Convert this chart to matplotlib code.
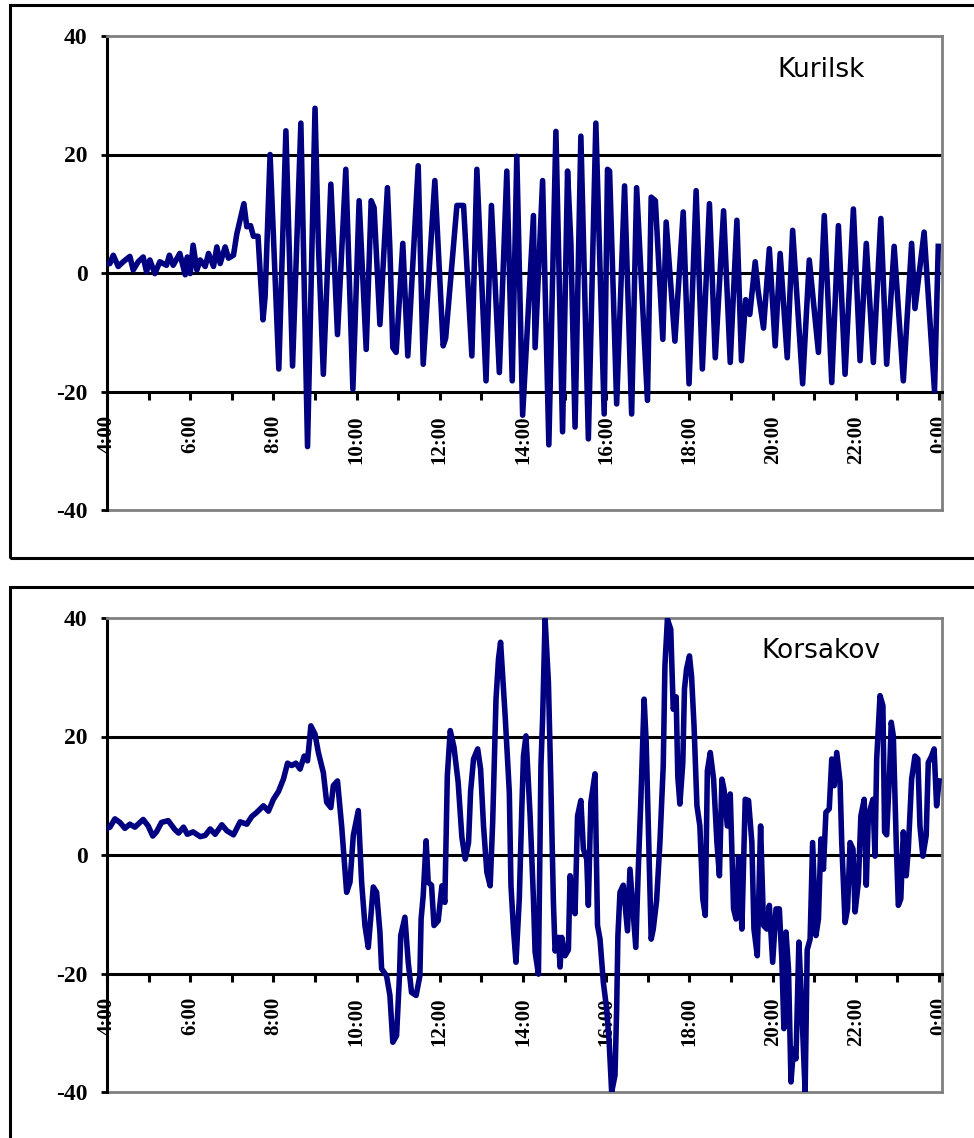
import matplotlib
matplotlib.use("Agg")
import matplotlib.pyplot as plt
from matplotlib.patches import Rectangle

# sea level records, hours since midnight -> cm
kurilsk_t = [4.00, 4.07, 4.15, 4.27, 4.39, 4.55, 4.63, 4.75, 4.87, 4.95, 5.03, 5.15, 5.27, 5.43,
             5.50, 5.59, 5.75, 5.88, 5.93, 6.00, 6.07, 6.16, 6.24, 6.36, 6.44, 6.56, 6.64, 6.72,
             6.84, 6.92, 7.04, 7.12, 7.29, 7.36, 7.45, 7.52, 7.63, 7.75, 7.80, 7.92, 8.13, 8.30,
             8.46, 8.66, 8.82, 9.00, 9.08, 9.20, 9.38, 9.54, 9.74, 9.91, 10.06, 10.23, 10.35,
             10.42, 10.56, 10.74, 10.80, 10.87, 10.95, 11.11, 11.23, 11.48, 11.60, 11.88, 12.08,
             12.14, 12.41, 12.57, 12.77, 12.89, 13.11, 13.24, 13.43, 13.61, 13.74, 13.85, 13.99,
             14.25, 14.29, 14.47, 14.62, 14.79, 14.95, 15.07, 15.15, 15.25, 15.39, 15.57, 15.75,
             15.95, 16.03, 16.08, 16.25, 16.44, 16.61, 16.73, 16.99, 17.08, 17.18, 17.36, 17.44,
             17.65, 17.85, 17.99, 18.16, 18.31, 18.48, 18.62, 18.82, 18.98, 19.14, 19.25, 19.35,
             19.45, 19.58, 19.65, 19.78, 19.92, 20.06, 20.18, 20.35, 20.48, 20.72, 20.88, 21.10,
             21.24, 21.42, 21.58, 21.74, 21.94, 22.10, 22.25, 22.42, 22.60, 22.74, 22.92, 23.14,
             23.34, 23.42, 23.64, 23.89, 23.98]
kurilsk_h = [1.5, 1.6, 3.0, 1.1, 1.9, 2.8, 0.5, 1.9, 2.7, 0.2, 2.2, -0.1, 1.9, 1.3,
             3.0, 1.3, 3.3, -0.3, 2.7, -0.1, 4.7, 0.5, 2.2, 1.1, 3.3, 1.1, 4.4, 1.6,
             4.4, 2.5, 3.0, 6.6, 11.7, 7.8, 8.0, 6.2, 6.2, -7.9, -4.0, 20.0, -16.2, 24.0,
             -15.7, 25.3, -29.3, 27.8, 5.0, -17.1, 15.0, -10.4, 17.5, -19.6, 12.2, -12.9, 12.2,
             11.0, -8.7, 14.4, 4.0, -12.6, -13.4, 5.0, -14.0, 18.1, -15.4, 15.6, -12.3,
             -11.0, 11.4, 11.4, -14.0, 17.5, -18.2, 11.4, -16.8, 17.2, -18.2, 19.7, -24.0,
             9.7, -12.6, 15.6, -29.0, 23.9, -26.8, 17.2, 5.0, -26.0, 23.1, -28.0, 25.3,
             -23.8, 17.5, 17.2, -22.1, 14.7, -23.8, 14.4, -21.5, 12.8, 12.2, -11.2, 8.6,
             -11.5, 10.3, -18.7, 13.9, -16.2, 11.7, -14.3, 10.5, -15.1, 8.9, -14.8, -4.5,
             -7.0, 1.9, -3.0, -9.3, 4.1, -12.3, 3.3, -14.3, 7.2, -18.7, 2.2, -13.4,
             9.7, -18.5, 8.0, -17.1, 10.8, -14.8, 5.0, -15.1, 9.2, -15.4, 4.5, -18.2,
             5.0, -6.0, 6.9, -19.9, 4.5]

korsakov_t = [4.00, 4.07, 4.19, 4.31, 4.43, 4.55, 4.67, 4.87, 4.99, 5.10, 5.19, 5.31, 5.47, 5.63,
              5.72, 5.84, 5.93, 6.07, 6.24, 6.36, 6.48, 6.60, 6.76, 6.88, 7.04, 7.20, 7.36, 7.48,
              7.60, 7.76, 7.88, 8.00, 8.12, 8.24, 8.34, 8.44, 8.54, 8.64, 8.74, 8.82, 8.90, 9.00,
              9.08, 9.20, 9.28, 9.38, 9.44, 9.54, 9.64, 9.76, 9.84, 9.92, 10.04, 10.12, 10.20,
              10.28, 10.40, 10.48, 10.56, 10.60, 10.72, 10.80, 10.87, 10.96, 11.03, 11.06, 11.16,
              11.24, 11.32, 11.43, 11.52, 11.55, 11.60, 11.67, 11.72, 11.80, 11.86, 11.96, 12.05,
              12.12, 12.18, 12.25, 12.34, 12.44, 12.53, 12.61, 12.69, 12.74, 12.81, 12.91, 12.98,
              13.05, 13.13, 13.21, 13.27, 13.35, 13.41, 13.46, 13.53, 13.57, 13.67, 13.71, 13.77,
              13.83, 13.91, 13.97, 14.01, 14.07, 14.17, 14.25, 14.29, 14.37, 14.43, 14.47, 14.53,
              14.61, 14.67, 14.73, 14.77, 14.85, 14.89, 14.93, 15.01, 15.09, 15.13, 15.19, 15.25,
              15.31, 15.39, 15.45, 15.53, 15.57, 15.63, 15.73, 15.79, 15.85, 15.93, 16.01, 16.07,
              16.13, 16.21, 16.25, 16.28, 16.33, 16.41, 16.51, 16.57, 16.71, 16.77, 16.83, 16.91,
              16.96, 17.01, 17.08, 17.13, 17.21, 17.29, 17.37, 17.41, 17.47, 17.55, 17.61, 17.68,
              17.72, 17.77, 17.84, 17.88, 17.93, 18.00, 18.05, 18.11, 18.18, 18.25, 18.32, 18.38,
              18.43, 18.50, 18.58, 18.66, 18.72, 18.78, 18.83, 18.91, 18.98, 19.06, 19.12, 19.18,
              19.26, 19.34, 19.42, 19.50, 19.55, 19.63, 19.71, 19.78, 19.86, 19.92, 20.00, 20.08,
              20.16, 20.22, 20.27, 20.32, 20.38, 20.44, 20.50, 20.56, 20.63, 20.70, 20.78, 20.83,
              20.90, 20.96, 21.04, 21.10, 21.16, 21.22, 21.28, 21.36, 21.42, 21.48, 21.54, 21.62,
              21.66, 21.74, 21.80, 21.86, 21.93, 21.98, 22.06, 22.12, 22.20, 22.25, 22.30, 22.41,
              22.46, 22.50, 22.58, 22.65, 22.69, 22.74, 22.81, 22.85, 22.90, 22.97, 23.02, 23.08,
              23.14, 23.21, 23.26, 23.34, 23.42, 23.49, 23.54, 23.61, 23.69, 23.74, 23.82, 23.88,
              23.94, 24.00]
korsakov_h = [4.5, 4.7, 6.1, 5.5, 4.5, 5.2, 4.7, 6.0, 4.9, 3.2, 3.9, 5.5, 5.8, 4.3,
              3.7, 4.7, 3.5, 3.9, 3.1, 3.3, 4.4, 3.5, 5.1, 4.1, 3.4, 5.6, 5.2, 6.5,
              7.2, 8.3, 7.4, 9.4, 10.7, 12.8, 15.5, 15.1, 15.5, 14.5, 16.7, 15.9, 21.8, 20.4,
              17.3, 13.9, 8.9, 8.0, 11.7, 12.5, 4.9, -6.3, -4.6, 3.3, 7.5, -4.6, -11.9,
              -15.6, -5.4, -6.3, -13.0, -19.2, -20.4, -23.7, -31.6, -30.5, -20.4, -13.6, -10.5,
              -18.1, -23.2, -23.7, -20.4, -10.8, -6.9, 2.4, -4.6, -5.1, -11.9, -11.1, -5.2,
              -8.0, 13.4, 21.0, 18.2, 12.3, 3.0, -0.7, 2.1, 10.8, 16.2, 17.9, 14.5,
              4.9, -2.9, -5.2, 5.5, 26.3, 33.1, 35.9, 28.0, 23.5, 10.6, -5.2, -12.5,
              -18.1, -7.4, 7.8, 16.7, 20.1, 6.6, -7.4, -16.4, -20.1, 15.1, 22.9, 39.8,
              29.1, 11.7, -8.0, -16.2, -13.9, -18.9, -13.9, -17.0, -16.0, -3.5, -6.9, -9.9,
              6.6, 9.2, 1.0, -0.7, -8.5, 8.9, 13.7, -11.9, -14.2, -21.5, -26.0, -31.6,
              -40.0, -37.2, -26.0, -13.6, -6.3, -5.1, -12.8, -2.4, -15.6, -2.4, 8.9, 26.3,
              19.0, 4.9, -14.2, -12.5, -7.7, 2.1, 15.1, 31.9, 39.8, 38.1, 24.6, 26.7,
              13.2, 8.6, 15.6, 28.0, 31.4, 33.6, 30.2, 21.8, 8.3, 4.9, -7.4, -10.2,
              14.2, 17.3, 12.8, 2.1, -3.5, 12.8, 11.1, 4.9, 10.3, -9.1, -10.8, -0.4,
              -12.5, 9.4, 9.2, 2.1, -12.5, -17.0, 4.9, -11.9, -12.5, -8.5, -18.1, -9.1,
              -9.1, -17.5, -29.3, -13.0, -19.2, -38.3, -32.7, -34.4, -14.7, -26.0, -40.0, -16.0,
              -14.2, 2.1, -13.6, -10.8, 2.7, -2.4, 7.2, 7.8, 16.2, 11.7, 17.3, 12.3,
              2.1, -11.4, -9.1, 2.1, 1.0, -9.6, -4.6, 6.6, 9.4, -5.1, 6.6, 9.4,
              -0.2, 16.2, 26.9, 25.2, 3.9, 3.4, 13.9, 22.4, 20.1, 2.1, -8.5, -7.4,
              3.9, -3.5, 1.0, 12.8, 16.7, 16.2, 4.9, -0.2, 3.3, 15.6, 16.7, 17.9,
              8.3, 12.5]

x_ticks = [4, 6, 8, 10, 12, 14, 16, 18, 20, 22, 24]
x_labels = ["4:00", "6:00", "8:00", "10:00", "12:00", "14:00", "16:00", "18:00", "20:00", "22:00", "0:00"]
y_ticks = [-40, -20, 0, 20, 40]
y_labels = ["-40", "-20", "0", "20", "40"]

W, H = 974, 1138
fig = plt.figure(figsize=(W / 100, H / 100), dpi=100)

# outer frames round each chart
for top, bottom in [(5, 558), (587, 1150)]:
    fig.patches.append(Rectangle((10 / W, 1 - bottom / H), 1.0, (bottom - top) / H,
                                 transform=fig.transFigure, fill=False, ec="black", lw=2.2))

panels = [(kurilsk_t, kurilsk_h, "Kurilsk", 36, 0.929), (korsakov_t, korsakov_h, "Korsakov", 618, 0.930)]

for t, h, name, top, ty in panels:
    ax = fig.add_axes([107 / W, 1 - (top + 474) / H, 835 / W, 474 / H])
    ax.set_xlim(4, 24.07)
    ax.set_ylim(-40, 40)

    ax.axhline(20, color="black", lw=2.2, zorder=1)
    ax.axhline(0, color="black", lw=2.2, zorder=1)
    ax.plot(t, h, color="#000080", lw=4, solid_joinstyle="round", zorder=3)

    for s in ["top", "right"]:
        ax.spines[s].set_color("#808080")
        ax.spines[s].set_linewidth(2)
    ax.spines["left"].set_color("black")
    ax.spines["left"].set_linewidth(2.2)
    ax.spines["bottom"].set_position(("data", -20))
    ax.spines["bottom"].set_color("black")
    ax.spines["bottom"].set_linewidth(2.2)
    ax.plot([0, 1], [0, 0], transform=ax.transAxes, color="#808080", lw=2, clip_on=False)

    ax.set_yticks(y_ticks)
    ax.set_yticklabels(y_labels, fontfamily="Liberation Serif", fontweight="bold", fontsize=17)
    ax.tick_params(axis="y", direction="out", length=4, width=2, pad=10)

    ax.set_xticks(x_ticks)
    ax.set_xticks(range(5, 24, 2), minor=True)
    ax.set_xticklabels(x_labels, rotation=90, fontfamily="Liberation Serif", fontweight="bold", fontsize=15)
    ax.tick_params(axis="x", which="both", direction="out", length=6, width=2.2, pad=11)

    ax.text(0.855, ty, name, transform=ax.transAxes, ha="center", va="center",
            fontsize=19, fontfamily="DejaVu Sans")

fig.savefig("out.png", dpi=100)
